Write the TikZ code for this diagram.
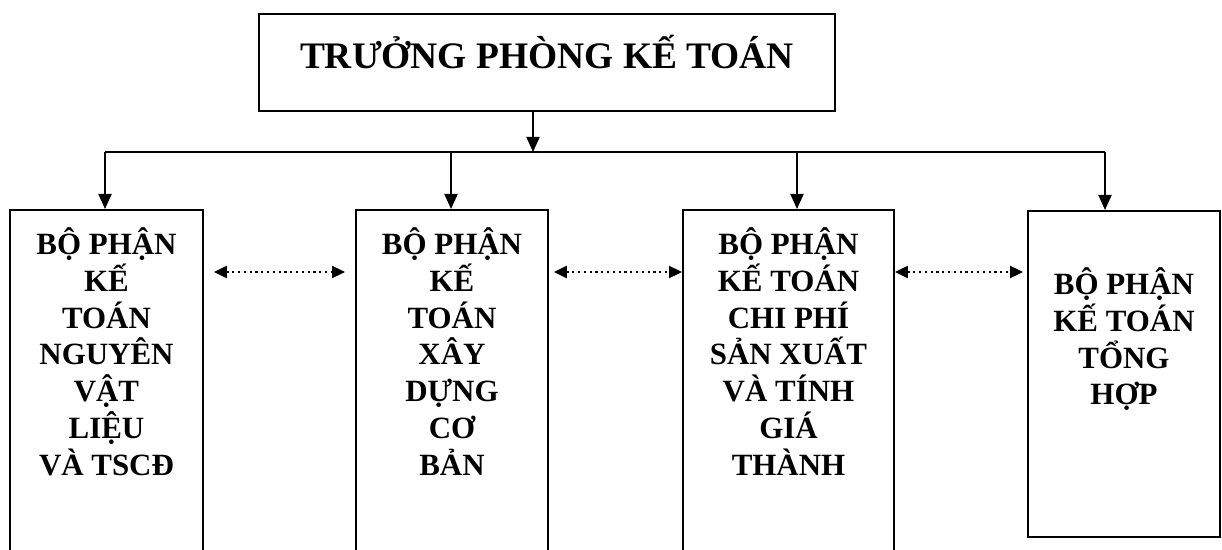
\documentclass[tikz,border=0pt]{standalone}
\usepackage{fontspec}
\setmainfont{Liberation Serif}
\usetikzlibrary{arrows.meta}

\begin{document}
\begin{tikzpicture}[
	box/.style={draw, line width=1.1pt, inner sep=0pt, anchor=north west},
	label/.style={font=\bfseries\fontsize{17.6}{21}\selectfont, align=center, inner sep=0pt, anchor=north},
	line/.style={line width=1.1pt},
	arr/.style={line width=1.1pt, -{Triangle[width=0.26cm, length=0.3cm]}},
	link/.style={line width=1.3pt, dash pattern=on 1.3pt off 2pt, {Triangle[width=0.24cm, length=0.26cm]}-{Triangle[width=0.24cm, length=0.26cm]}}
	]
	\clip (0,0) rectangle (24.44,-11);
	\fill[white] (0,0) rectangle (24.44,-11);

	\node[box, minimum width=11.52cm, minimum height=1.94cm] (chief) at (5.16,-0.26) {};
	\node[font=\bfseries\fontsize{21.3}{25}\selectfont, anchor=base] (title) at ([yshift=-1.12cm]chief.north) {TRƯỞNG PHÒNG KẾ TOÁN};

	\node[box, minimum width=3.86cm, minimum height=7.4cm] (b1) at (0.18,-4.18) {};
	\node[box, minimum width=3.84cm, minimum height=7.4cm] (b2) at (7.1,-4.18) {};
	\node[box, minimum width=4.22cm, minimum height=7.4cm] (b3) at (13.64,-4.18) {};
	\node[box, minimum width=3.84cm, minimum height=6.52cm] (b4) at (20.54,-4.2) {};

	\node[label] (t1) at ([yshift=-0.36cm]b1.north) {BỘ PHẬN\\KẾ\\TOÁN\\NGUYÊN\\VẬT\\LIỆU\\VÀ TSCĐ};
	\node[label] (t2) at ([yshift=-0.36cm]b2.north) {BỘ PHẬN\\KẾ\\TOÁN\\XÂY\\DỰNG\\CƠ\\BẢN};
	\node[label] (t3) at ([yshift=-0.36cm]b3.north) {BỘ PHẬN\\KẾ TOÁN\\CHI PHÍ\\SẢN XUẤT\\VÀ TÍNH\\GIÁ\\THÀNH};
	\node[label] (t4) at ([yshift=-1.14cm]b4.north) {BỘ PHẬN\\KẾ TOÁN\\TỔNG\\HỢP};

	\coordinate (hub) at (10.66,-3.04);
	\coordinate (bus1) at (2.1,-3.04);
	\coordinate (bus2) at (9.02,-3.04);
	\coordinate (bus3) at (15.94,-3.04);
	\coordinate (bus4) at (22.1,-3.04);
	\coordinate (lvl) at (0,-5.44);

	\draw[arr] (chief.south -| hub) -- (hub);
	\draw[line] (bus1) -- (bus4);
	\foreach \i in {1,...,4}
		\draw[arr] (bus\i) -- (bus\i |- b\i.north);

	\draw[link, shorten <=0.2cm, shorten >=0.2cm] (b1.east |- lvl) -- (b2.west |- lvl);
	\draw[link, shorten <=0.1cm] (b2.east |- lvl) -- (b3.west |- lvl);
	\draw[link, shorten >=0.08cm] (b3.east |- lvl) -- (b4.west |- lvl);
\end{tikzpicture}
\end{document}
